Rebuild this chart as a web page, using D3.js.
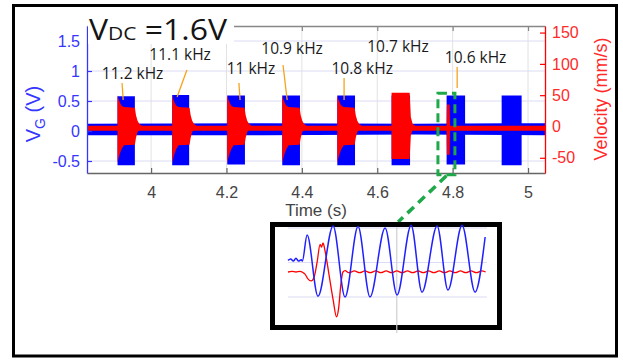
<!DOCTYPE html>
<html>
<head>
<meta charset="utf-8">
<script src="https://cdn.jsdelivr.net/npm/d3@7"></script>
<style>
  body { margin: 0; background: #fff; }
  svg { display: block; }
</style>
</head>
<body>
<svg id="chart" width="623" height="360"></svg>
<script>
// Axis ticks and labels.
const timeTicks = [4, 4.2, 4.4, 4.6, 4.8, 5];
const timeTickLabels = ["4", "4.2", "4.4", "4.6", "4.8", "5"];
const vgTicks = [-0.5, 0, 0.5, 1, 1.5];
const vgTickLabels = ["-0.5", "0", "0.5", "1", "1.5"];
const velTicks = [-50, 0, 50, 100, 150];
const velTickLabels = ["-50", "0", "50", "100", "150"];

// Drive bursts (s) and gate voltage envelope (V).
const burstStart = [3.911, 4.056, 4.202, 4.348, 4.494, 4.638, 4.784, 4.930];
const burstEnd   = [3.957, 4.101, 4.249, 4.395, 4.541, 4.687, 4.833, 4.983];
const vgHigh = [0.58, 0.60, 0.59, 0.59, 0.59, 0.59, 0.59, 0.59];
const vgLow  = [-0.57, -0.57, -0.56, -0.57, -0.57, -0.57, -0.56, -0.57];

// Velocity envelope per burst: [time after start (s), upper, lower] in mm/s.
const redShape = ["decay", "decay", "decay", "decay", "decay", "full", "spike", "none"];
const redDecay = [[0, 50, -58], [0.003, 43, -50], [0.007, 37, -42], [0.011, 33, -36],
                  [0.017, 31, -30], [0.046, 30, -29], [0.049, 18, -18], [0.053, 9, -9],
                  [0.058, 4, -5], [0.064, 1, -3]];
const redFull  = [[0, 54, -52], [0.048, 54, -52], [0.051, 15, -15], [0.056, 4, -5], [0.062, 1, -3]];
const redSpike = [[0, 1, -3], [0.001, 35, -45], [0.008, 35, -45], [0.009, 1, -3]];

// Baseline noise bands: [time, lower, upper].
const vgNoise  = [[3.83, -0.07, 0.12], [4.3, -0.07, 0.13], [4.7, -0.06, 0.12], [5.045, -0.07, 0.13]];
const velNoise = [[3.83, -7, 1], [5.045, -7, 1]];

// Frequency annotations (text centre and leader ends in data units).
const freqLabels = ["11.2 kHz", "11.1 kHz", "11 kHz", "10.9 kHz", "10.8 kHz", "10.7 kHz", "10.6 kHz"];
const labelAt    = [[3.951, 0.967], [4.077, 1.28], [4.265, 1.05], [4.374, 1.383], [4.560, 1.05], [4.655, 1.417], [4.861, 1.233]];
const leaderFrom = [[3.923, 0.80], [4.095, 1.017], [4.233, 0.80], [4.350, 1.10], [4.512, 0.883], null, [4.812, 1.067]];
const leaderTo   = [[3.926, 0.517], [4.069, 0.567], [4.236, 0.517], [4.361, 0.517], [4.512, 0.517], null, [4.812, 0.717]];

// Zoomed region.
const zoomBox = { t0: 4.761, t1: 4.806, top: 0.63, bottom: -0.73 };

// Inset traces: [time (ms), value].
const insetVg = [[0, 0.03], [0.01, 0.05], [0.02, 0.02], [0.03, 0.06], [0.04, 0.02], [0.05, 0.04], [0.054, 0.02],
                 [0.072, 0.40], [0.113, -0.49], [0.170, 0.53], [0.215, -0.50], [0.264, 0.52], [0.309, -0.50],
                 [0.366, 0.50], [0.411, -0.47], [0.464, 0.54], [0.505, -0.43], [0.562, 0.53], [0.603, -0.40],
                 [0.656, 0.54], [0.705, -0.43], [0.743, 0.37]];
const insetVel = [[0, 0], [0.015, 1], [0.03, 0], [0.045, 1], [0.057, -1], [0.064, -3], [0.075, -10], [0.087, -13],
                  [0.098, -8], [0.110, 15], [0.121, 40], [0.126, 36], [0.132, 42], [0.140, 30], [0.155, -5],
                  [0.170, -40], [0.183, -65], [0.190, -55], [0.200, -15], [0.207, 0], [0.215, 2], [0.230, -1],
                  [0.250, 1.5], [0.270, -1], [0.290, 1.5], [0.310, -1], [0.330, 1.5], [0.350, -1], [0.370, 1.5],
                  [0.390, -1], [0.410, 1.5], [0.430, -1], [0.450, 1.5], [0.470, -1], [0.490, 1.5], [0.510, -1],
                  [0.530, 1.5], [0.550, -1], [0.570, 1.5], [0.590, -1], [0.610, 1.5], [0.630, -1], [0.650, 1.5],
                  [0.670, -1], [0.690, 1.5], [0.710, -1], [0.730, 1.5], [0.745, 0]];
const insetVgGrid = [-0.5, 0, 0.5];
const insetTimeGrid = [0.41];

const BLUE = "#0000ff", RED = "#ff0000";
const BLUE_TXT = "#3535ff", RED_TXT = "#ff2a2a", GRAY_TXT = "#444";
const FONT = "'Liberation Sans', Arial, sans-serif";

const svg = d3.select("#chart");

// Outer frame.
svg.append("rect")
  .attr("x", 13.5).attr("y", 5.5).attr("width", 603).attr("height", 350.5)
  .attr("fill", "#fff").attr("stroke", "#000").attr("stroke-width", 3);

// Scales.
const plot = { left: 87, right: 545, top: 26, bottom: 173 };
const x = d3.scaleLinear().domain([3.83, 5.045]).range([plot.left, plot.right]);
const yL = d3.scaleLinear().domain([-0.70, 1.75]).range([plot.bottom, plot.top]);
const yR = d3.scaleLinear().domain([-74.3, 160.5]).range([plot.bottom, plot.top]);

// Grid.
const grid = svg.append("g");
grid.selectAll("line.v").data(timeTicks).join("line")
  .attr("x1", d => x(d)).attr("x2", d => x(d))
  .attr("y1", plot.top).attr("y2", plot.bottom)
  .attr("stroke", "#e2e2e2").attr("stroke-width", 1);
grid.selectAll("line.h").data(vgTicks).join("line")
  .attr("x1", plot.left).attr("x2", plot.right)
  .attr("y1", d => yL(d)).attr("y2", d => yL(d))
  .attr("stroke", "#dcdcf6").attr("stroke-width", 1);

// Area generators.
const vgArea = d3.area().x(d => x(d[0])).y0(d => yL(d[1])).y1(d => yL(d[2]));
const velArea = d3.area().x(d => x(d[0])).y0(d => yR(d[1])).y1(d => yR(d[2]));

const traces = svg.append("g");

// Gate voltage: baseline + bursts.
traces.append("path").datum(vgNoise).attr("d", vgArea).attr("fill", BLUE);
traces.selectAll("path.vgb")
  .data(burstStart.map((s, i) => [[s, vgLow[i], vgHigh[i]], [burstEnd[i], vgLow[i], vgHigh[i]]]))
  .join("path").attr("class", "vgb")
  .attr("d", vgArea).attr("fill", BLUE);

// Velocity: baseline + bursts.
traces.append("path").datum(velNoise).attr("d", velArea).attr("fill", RED);
const shapes = { decay: redDecay, full: redFull, spike: redSpike };
traces.selectAll("path.velb")
  .data(burstStart.map((s, i) => shapes[redShape[i]]
    ? shapes[redShape[i]].map(p => [s + p[0], p[2], p[1]]) : null).filter(d => d))
  .join("path").attr("class", "velb")
  .attr("d", velArea).attr("fill", RED);

// Axes.
const styleAxis = (g, color, txt) => {
  g.select(".domain").attr("stroke", color).attr("stroke-width", 1.3);
  g.selectAll(".tick line").attr("stroke", color).attr("stroke-width", 1.2);
  g.selectAll(".tick text").attr("fill", txt).attr("font-size", 16).attr("font-family", FONT);
};

svg.append("g")
  .attr("transform", `translate(0,${plot.bottom})`)
  .call(d3.axisBottom(x).tickValues(timeTicks).tickFormat((d, i) => timeTickLabels[i])
    .tickSizeInner(-5).tickSizeOuter(0).tickPadding(14))
  .call(g => styleAxis(g, "#666", GRAY_TXT));

svg.append("g")
  .attr("transform", `translate(0,${plot.top})`)
  .call(d3.axisTop(x).tickValues(timeTicks).tickFormat("").tickSizeInner(-5).tickSizeOuter(0))
  .call(g => styleAxis(g, "#888", GRAY_TXT));

svg.append("g")
  .attr("transform", `translate(${plot.left},0)`)
  .call(d3.axisLeft(yL).tickValues(vgTicks).tickFormat((d, i) => vgTickLabels[i])
    .tickSizeInner(-5).tickSizeOuter(0).tickPadding(7))
  .call(g => styleAxis(g, BLUE_TXT, BLUE_TXT));

svg.append("g")
  .attr("transform", `translate(${plot.right},0)`)
  .call(d3.axisRight(yR).tickValues(velTicks).tickFormat((d, i) => velTickLabels[i])
    .tickSizeInner(-5).tickSizeOuter(0).tickPadding(7))
  .call(g => styleAxis(g, RED, RED_TXT));

// Axis titles.
svg.append("text")
  .attr("x", 316).attr("y", 216).attr("text-anchor", "middle")
  .attr("font-family", FONT).attr("font-size", 17).attr("fill", GRAY_TXT)
  .text("Time (s)");

const vgLabel = svg.append("text")
  .attr("transform", "translate(40,114) rotate(-90)").attr("text-anchor", "middle")
  .attr("font-family", FONT).attr("font-size", 20).attr("fill", BLUE_TXT);
vgLabel.append("tspan").text("V");
vgLabel.append("tspan").attr("font-size", 14).attr("dy", 5).text("G");
vgLabel.append("tspan").attr("dy", -5).text(" (V)");

svg.append("text")
  .attr("transform", "translate(607,99) rotate(-90)").attr("text-anchor", "middle")
  .attr("font-family", FONT).attr("font-size", 18).attr("fill", RED_TXT)
  .text("Velocity (mm/s)");

// Title with white backing over the top axis.
svg.append("rect").attr("x", 88).attr("y", 12).attr("width", 146).attr("height", 32).attr("fill", "#fff");
const title = svg.append("text")
  .attr("x", 89).attr("y", 40)
  .attr("font-family", "'Open Sans', sans-serif").attr("fill", "#141414")
  .attr("textLength", 138).attr("lengthAdjust", "spacingAndGlyphs");
title.append("tspan").attr("font-size", 29).text("V");
title.append("tspan").attr("font-size", 19).text("DC");
title.append("tspan").attr("font-size", 29).text(" =1.6V");

// Frequency labels with orange leaders.
const ann = svg.append("g");
ann.selectAll("line")
  .data(leaderFrom.map((f, i) => f ? [f, leaderTo[i]] : null).filter(d => d))
  .join("line")
  .attr("x1", d => x(d[0][0])).attr("y1", d => yL(d[0][1]))
  .attr("x2", d => x(d[1][0])).attr("y2", d => yL(d[1][1]))
  .attr("stroke", "#f7a21b").attr("stroke-width", 1.3);
ann.selectAll("text").data(freqLabels).join("text")
  .attr("x", (d, i) => x(labelAt[i][0])).attr("y", (d, i) => yL(labelAt[i][1]))
  .attr("text-anchor", "middle").attr("dominant-baseline", "central")
  .attr("font-family", "'Open Sans', sans-serif").attr("font-size", 15.5).attr("fill", "#1a1a1a")
  .text(d => d);

// Inset geometry.
const inset = { left: 288, right: 487, top: 222, bottom: 330 };
const ix = d3.scaleLinear().domain([0, 0.75]).range([inset.left, inset.right]);
const iyL = d3.scaleLinear().domain([-0.5, 0.5]).range([297, 228]);
const iyR = d3.scaleLinear().domain([0, 50]).range([272, 237.5]);

// Zoom box and connector.
const GREEN = "#1fa84a";
svg.append("rect")
  .attr("x", x(zoomBox.t0)).attr("y", yL(zoomBox.top))
  .attr("width", x(zoomBox.t1) - x(zoomBox.t0)).attr("height", yL(zoomBox.bottom) - yL(zoomBox.top))
  .attr("fill", "none").attr("stroke", GREEN).attr("stroke-width", 3).attr("stroke-dasharray", "9,5");
svg.append("line")
  .attr("x1", x((zoomBox.t0 + zoomBox.t1) / 2)).attr("y1", yL(zoomBox.bottom) + 1)
  .attr("x2", ix(0.415)).attr("y2", inset.top)
  .attr("stroke", GREEN).attr("stroke-width", 3.5).attr("stroke-dasharray", "9,6");

// Inset panel.
svg.append("rect")
  .attr("x", 272.5).attr("y", 224.5).attr("width", 227).attr("height", 103)
  .attr("fill", "#fff").attr("stroke", "#000").attr("stroke-width", 5);
const ig = svg.append("g");
ig.selectAll("line.h").data(insetVgGrid).join("line")
  .attr("x1", inset.left).attr("x2", inset.right)
  .attr("y1", d => iyL(d)).attr("y2", d => iyL(d))
  .attr("stroke", "#dcdcf6").attr("stroke-width", 1.2);
ig.selectAll("line.v").data(insetTimeGrid).join("line")
  .attr("x1", d => ix(d)).attr("x2", d => ix(d))
  .attr("y1", 227).attr("y2", 333)
  .attr("stroke", "#cfcfcf").attr("stroke-width", 1.2);
ig.append("path").datum(insetVel)
  .attr("d", d3.line().x(d => ix(d[0])).y(d => iyR(d[1])).curve(d3.curveMonotoneX))
  .attr("fill", "none").attr("stroke", RED).attr("stroke-width", 1.3);
ig.append("path").datum(insetVg)
  .attr("d", d3.line().x(d => ix(d[0])).y(d => iyL(d[1])).curve(d3.curveMonotoneX))
  .attr("fill", "none").attr("stroke", "#2020ff").attr("stroke-width", 1.5);
</script>
</body>
</html>
